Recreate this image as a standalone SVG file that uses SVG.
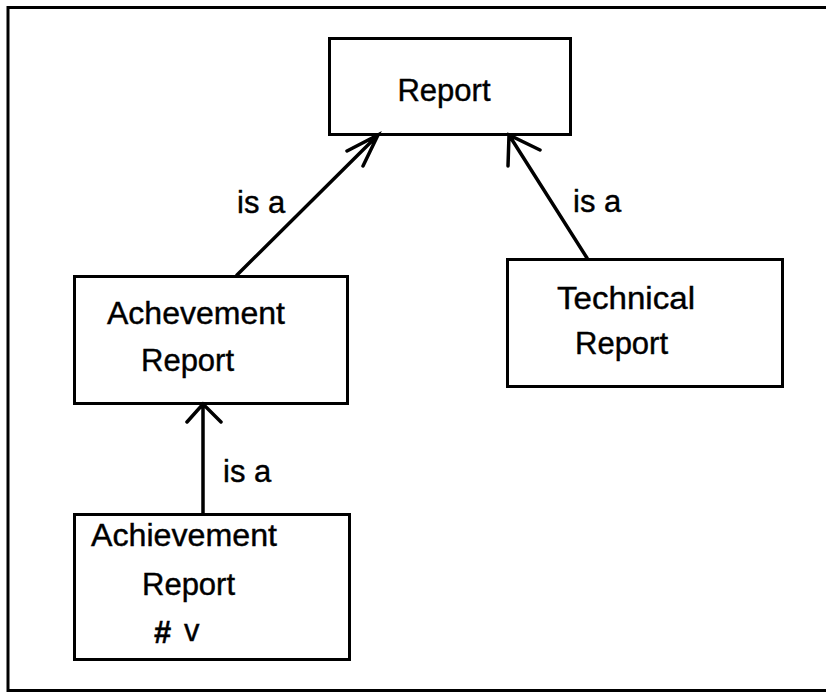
<svg xmlns="http://www.w3.org/2000/svg" width="826" height="692" viewBox="0 0 826 692">
<style>
.box{fill:#fff;stroke:#000;stroke-width:3}
.t{font-family:"Liberation Sans",Arial,sans-serif;font-size:31px;fill:#000;stroke:#000;stroke-width:0.4}
.c{fill:none;stroke:#000;stroke-width:3.5;stroke-linecap:round}
</style>
<rect width="826" height="692" fill="#fff"/>
<path d="M826 7.5H8V690.5H826" fill="none" stroke="#000" stroke-width="3"/>
<g id="report">
<rect class="box" x="329.5" y="38.5" width="241" height="96"/>
<text class="t" x="444" y="101" text-anchor="middle">Report</text>
</g>
<g id="achevement-report">
<rect class="box" x="74.5" y="276.5" width="273" height="127"/>
<text class="t" x="107" y="324" textLength="178" lengthAdjust="spacingAndGlyphs">Achevement</text>
<text class="t" x="141" y="371">Report</text>
</g>
<g id="technical-report">
<rect class="box" x="507.5" y="259.5" width="275" height="127"/>
<text class="t" x="557" y="309" textLength="138" lengthAdjust="spacingAndGlyphs">Technical</text>
<text class="t" x="575" y="354">Report</text>
</g>
<g id="achievement-report-v">
<rect class="box" x="74.5" y="514.5" width="275" height="145"/>
<text class="t" x="91" y="546" textLength="186" lengthAdjust="spacingAndGlyphs">Achievement</text>
<text class="t" x="142" y="595">Report</text>
<text class="t" x="154" y="643" font-weight="bold" font-size="28">#</text>
<text class="t" x="184" y="641" font-size="20" stroke-width="0">v</text>
</g>
<g id="connectors">
<path class="c" d="M237 275L378 135M347 151L378 135L363 166"/>
<path class="c" d="M587 258L509 135M540 150L509 135L508 166"/>
<path class="c" d="M203 513V404M187 422L203 404L221 422"/>
<text class="t" x="237" y="213">is a</text>
<text class="t" x="573" y="212">is a</text>
<text class="t" x="223" y="482">is a</text>
</g>
</svg>
